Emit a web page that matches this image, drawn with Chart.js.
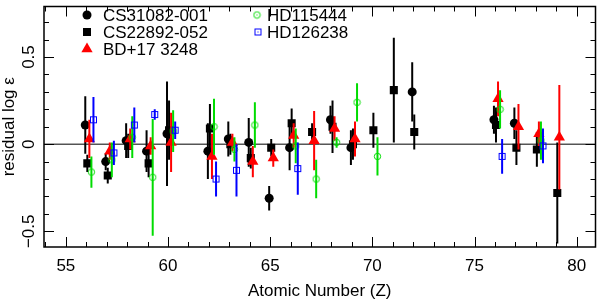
<!DOCTYPE html>
<html>
<head>
<meta charset="utf-8">
<script src="https://cdn.jsdelivr.net/npm/chart.js@4"></script>
<style>
  html, body { margin: 0; padding: 0; background: #fff; }
</style>
</head>
<body>
<canvas id="chart" width="602" height="302"></canvas>
<script>
// === data (Z, residual, error) ===
const zCS31 = [56, 57, 58, 59, 60, 62, 63, 64, 65, 66, 68, 69, 72, 76, 77];
const resCS31 = [0.11, -0.10, 0.02, -0.04, 0.06, -0.04, 0.03, 0.01, -0.31, -0.02, 0.14, -0.02, 0.30, 0.14, 0.12];
const errCS31 = [0.165, 0.05, 0.10, 0.12, 0.30, 0.16, 0.10, 0.14, 0.07, 0.13, 0.08, 0.10, 0.17, 0.08, 0.09];

const zCS22 = [56, 57, 58, 59, 60, 62, 63, 64, 65, 66, 67, 68, 69, 70, 71, 72, 76, 77, 78, 79];
const resCS22 = [-0.11, -0.18, -0.01, -0.11, 0.08, 0.09, 0.00, -0.08, -0.02, 0.12, 0.07, 0.10, 0.00, 0.08, 0.31, 0.07, 0.11, -0.02, -0.03, -0.28];
const errCS22 = [0.05, 0.045, 0.07, 0.08, 0.17, 0.14, 0.06, 0.06, 0.05, 0.085, 0.05, 0.15, 0.09, 0.10, 0.30, 0.10, 0.10, 0.10, 0.10, 0.29];

const zBD17 = [56, 57, 58, 59, 60, 62, 63, 64, 65, 66, 67, 68, 69, 76, 77, 78, 79];
const resBD17 = [0.03, -0.04, 0.03, -0.01, 0.01, -0.07, 0.01, -0.10, -0.08, 0.05, 0.02, 0.09, 0.03, 0.26, 0.10, 0.06, 0.04];
const errBD17 = [0.11, 0.05, 0.06, 0.05, 0.17, 0.13, 0.05, 0.09, 0.05, 0.07, 0.17, 0.07, 0.10, 0.10, 0.13, 0.07, 0.30];

const zHD115 = [56, 57, 58, 59, 60, 62, 63, 64, 66, 67, 68, 69, 70, 76, 78];
const resHD115 = [-0.16, -0.09, 0.04, -0.19, 0.075, 0.10, -0.03, 0.11, -0.01, -0.20, 0.01, 0.24, -0.07, 0.20, 0.02];
const errHD115 = [0.09, 0.10, 0.12, 0.335, 0.12, 0.16, 0.07, 0.13, 0.10, 0.11, 0.03, 0.11, 0.11, 0.11, 0.11];

const zHD126 = [56, 57, 58, 59, 60, 62, 63, 66, 76, 78];
const resHD126 = [0.14, -0.05, 0.11, 0.17, 0.08, -0.20, -0.15, -0.14, -0.07, -0.01];
const errHD126 = [0.13, 0.07, 0.10, 0.03, 0.05, 0.10, 0.15, 0.15, 0.10, 0.10];

const xTickLabels = [55, 60, 65, 70, 75, 80];
const yTickLabels = [-0.5, 0, 0.5];

const FONT = '17px "Liberation Sans", Arial, sans-serif';
const GREEN = 'rgb(0, 220, 0)';
const BLUE = 'rgb(0, 0, 255)';
const RED = 'rgb(255, 0, 0)';

// open symbols with a dot in the middle
function makeSymbol(kind, color) {
    const c = document.createElement('canvas');
    c.width = 9; c.height = 9;
    const g = c.getContext('2d');
    g.strokeStyle = color; g.fillStyle = color; g.lineWidth = 1;
    if (kind === 'circle') {
        g.beginPath(); g.arc(4.5, 4.5, 3.2, 0, Math.PI * 2); g.stroke();
    } else {
        g.strokeRect(1.5, 1.5, 6, 6);
    }
    g.fillRect(4, 4, 1, 1);
    return c;
}
const greenSym = makeSymbol('circle', GREEN);
const blueSym = makeSymbol('square', BLUE);

function series(label, zs, res, errs, shift, style, radius, color, order) {
    return {
        label: label,
        data: zs.map((z, i) => ({ x: z + shift, y: res[i] })),
        errors: errs,
        barColor: color,
        pointStyle: style,
        pointRadius: radius,
        pointHoverRadius: radius,
        backgroundColor: color,
        borderColor: color,
        borderWidth: 0,
        order: order
    };
}

const datasets = [
    series('CS31082-001', zCS31, resCS31, errCS31, -0.05, 'circle', 4.5, '#000', 5),
    series('CS22892-052', zCS22, resCS22, errCS22, 0.05, 'rect', 5.7, '#000', 4),
    series('BD+17 3248', zBD17, resBD17, errBD17, 0.15, 'triangle', 6.5, RED, 3),
    series('HD115444', zHD115, resHD115, errHD115, 0.25, greenSym, 4.5, GREEN, 2),
    series('HD126238', zHD126, resHD126, errHD126, 0.35, blueSym, 4.5, BLUE, 1)
];

// zero line and vertical error bars, drawn just under each dataset's markers
const errorBars = {
    id: 'errorBars',
    beforeDatasetsDraw(chart) {
        const { ctx, chartArea: a, scales: { y } } = chart;
        const y0 = y.getPixelForValue(0);
        ctx.save();
        ctx.strokeStyle = '#000';
        ctx.lineWidth = 1;
        ctx.beginPath();
        ctx.moveTo(a.left, y0); ctx.lineTo(a.right, y0);
        ctx.stroke();
        ctx.restore();
    },
    beforeDatasetDraw(chart, args) {
        const ds = chart.data.datasets[args.index];
        const { ctx, chartArea: a, scales: { y } } = chart;
        ctx.save();
        ctx.beginPath();
        ctx.rect(a.left, a.top, a.right - a.left, a.bottom - a.top);
        ctx.clip();
        ctx.strokeStyle = ds.barColor;
        ctx.lineWidth = 2;
        args.meta.data.forEach((pt, i) => {
            const v = ds.data[i].y, e = ds.errors[i];
            ctx.beginPath();
            ctx.moveTo(pt.x, y.getPixelForValue(v + e));
            ctx.lineTo(pt.x, y.getPixelForValue(v - e));
            ctx.stroke();
        });
        ctx.restore();
    }
};

// frame, inward ticks, labels and legend
const frame = {
    id: 'frame',
    afterDraw(chart) {
        const { ctx, chartArea: a, scales: { x, y } } = chart;
        ctx.save();
        ctx.strokeStyle = '#000';
        ctx.lineWidth = 1.5;
        ctx.strokeRect(a.left, a.top, a.right - a.left, a.bottom - a.top);

        ctx.lineWidth = 1;
        ctx.beginPath();
        for (let z = 54; z <= 80; z++) {
            const px = Math.round(x.getPixelForValue(z)) + 0.5;
            const len = z % 5 === 0 ? 10 : 5;
            ctx.moveTo(px, a.bottom); ctx.lineTo(px, a.bottom - len);
            ctx.moveTo(px, a.top); ctx.lineTo(px, a.top + len);
        }
        for (let k = -5; k <= 7; k++) {
            const py = Math.round(y.getPixelForValue(k / 10)) + 0.5;
            const len = k % 5 === 0 ? 10 : 5;
            ctx.moveTo(a.left, py); ctx.lineTo(a.left + len, py);
            ctx.moveTo(a.right, py); ctx.lineTo(a.right - len, py);
        }
        ctx.stroke();

        ctx.fillStyle = '#000';
        ctx.font = FONT;
        ctx.textAlign = 'center';
        ctx.textBaseline = 'middle';
        xTickLabels.forEach(v => ctx.fillText(String(v), x.getPixelForValue(v), 266));
        ctx.fillText('Atomic Number (Z)', (a.left + a.right) / 2, 291);

        yTickLabels.forEach(v => {
            ctx.save();
            ctx.translate(29, y.getPixelForValue(v));
            ctx.rotate(-Math.PI / 2);
            ctx.fillText(v === 0 ? '0' : v.toFixed(1).replace('-', '\u2212'), 0, 0);
            ctx.restore();
        });
        ctx.save();
        ctx.translate(9, (a.top + a.bottom) / 2);
        ctx.rotate(-Math.PI / 2);
        ctx.fillText('residual log \u03b5', 0, 0);
        ctx.restore();

        // legend in two columns
        const spots = [[87, 15, 103], [87, 32, 103], [87, 49, 103], [257, 15, 267], [258, 32, 267]];
        ctx.textAlign = 'left';
        chart.data.datasets.forEach((ds, i) => {
            const [mx, my, tx] = spots[i];
            ctx.fillStyle = ds.backgroundColor;
            ctx.strokeStyle = ds.borderColor;
            Chart.helpers.drawPoint(ctx, {
                pointStyle: ds.pointStyle, radius: ds.pointRadius, rotation: 0, borderWidth: 0
            }, mx, my);
            ctx.fillStyle = '#000';
            ctx.fillText(ds.label, tx, my + 1);
        });
        ctx.restore();
    }
};

new Chart(document.getElementById('chart'), {
    type: 'scatter',
    data: { datasets: datasets },
    options: {
        responsive: false,
        animation: false,
        layout: { padding: { left: 44, right: 2, top: 2, bottom: 55 } },
        scales: {
            x: { type: 'linear', display: false, min: 53.93, max: 80.92 },
            y: { type: 'linear', display: false, min: -0.59, max: 0.79 }
        },
        plugins: { legend: { display: false }, tooltip: { enabled: false } }
    },
    plugins: [errorBars, frame]
});
</script>
</body>
</html>
